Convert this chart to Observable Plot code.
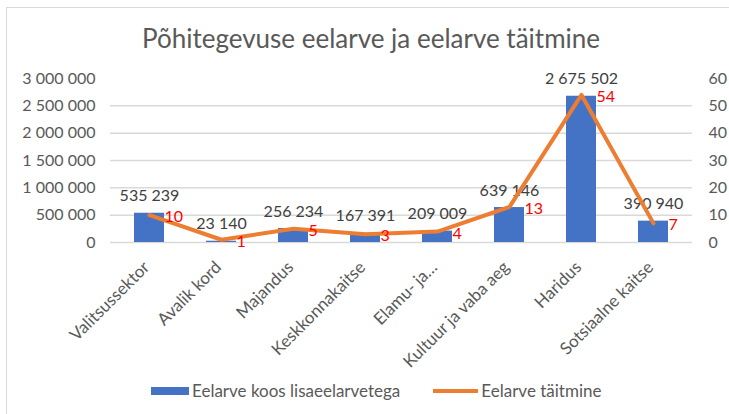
<!DOCTYPE html>
<html>
<head>
<meta charset="utf-8">
<script src="https://cdn.jsdelivr.net/npm/d3@7"></script>
<script src="https://cdn.jsdelivr.net/npm/@observablehq/plot@0.6"></script>
<style>
  html, body { margin: 0; padding: 0; background: #fff; }
  #wrap { position: relative; width: 729px; height: 414px; overflow: hidden; font-family: Lato, "Open Sans", sans-serif; }
  #frame { position: absolute; left: 6px; top: 7px; width: 740px; height: 420px; border: 1px solid #d9d9d9; box-sizing: border-box; }
  #title { position: absolute; left: 0; width: 742px; top: 22px; text-align: center; font-size: 26px; color: #595959; }
  #chart { position: absolute; left: 0; top: 60px; }
  #legend { position: absolute; top: 380px; left: 151px; font-size: 17px; color: #595959; display: flex; align-items: center; }
  .sw { display: inline-block; margin-right: 3px; }
</style>
</head>
<body>
<div id="wrap">
  <div id="frame"></div>
  <div id="title">Põhitegevuse eelarve ja eelarve täitmine</div>
  <div id="chart"></div>
  <div id="legend">
    <span class="sw" style="width:38px;height:8px;background:#4472C4"></span><span>Eelarve koos lisaeelarvetega</span>
    <span class="sw" style="width:45px;height:4px;background:#ED7D31;margin-left:33px"></span><span>Eelarve täitmine</span>
  </div>
</div>
<script>
const categories = ["Valitsussektor", "Avalik kord", "Majandus", "Keskkonnakaitse", "Elamu- ja…", "Kultuur ja vaba aeg", "Haridus", "Sotsiaalne kaitse"];
const budget = [535239, 23140, 256234, 167391, 209009, 639146, 2675502, 390940];
const execution = [10, 1, 5, 3, 4, 13, 54, 7];
const leftTicks = [0, 500000, 1000000, 1500000, 2000000, 2500000, 3000000];
const rightTicks = [0, 10, 20, 30, 40, 50, 60];

const ratio = 3000000 / 60;
const data = categories.map((c, i) => ({ c, b: budget[i], e: execution[i] }));
const fmt = v => d3.format(",")(v).replace(/,/g, " ");
const gray = "#595959";

const chart = Plot.plot({
  width: 729,
  height: 310,
  marginLeft: 110,
  marginRight: 37,
  marginTop: 18,
  marginBottom: 128,
  style: { fontFamily: "Lato, 'Open Sans', sans-serif", fontSize: "16px", color: gray, background: "transparent", overflow: "visible" },
  x: { domain: categories, paddingInner: 0.587, paddingOuter: 0.2935, label: null },
  y: { domain: [0, 3000000], label: null },
  marks: [
    Plot.ruleY(leftTicks.slice(0, -1), { stroke: "#d9d9d9", strokeWidth: 1.5 }),
    Plot.axisY(leftTicks, { anchor: "left", tickSize: 0, tickPadding: 15, tickFormat: fmt, label: null, fill: gray, fontSize: 16 }),
    Plot.axisY(rightTicks.map(v => v * ratio), { anchor: "right", tickSize: 0, tickPadding: 16, tickFormat: d => String(d / ratio), label: null, fill: gray, fontSize: 16 }),
    Plot.axisX({ tickSize: 0, tickPadding: 22, tickRotate: -45, fontSize: 17, fill: gray, label: null, dx: -3 }),
    Plot.barY(data, { x: "c", y: "b", fill: "#4472C4" }),
    Plot.text(data, { x: "c", y: "b", text: d => fmt(d.b), dy: -17, fill: "#404040", fontSize: 16 }),
    Plot.line(data, { x: "c", y: d => d.e * ratio, stroke: "#ED7D31", strokeWidth: 4, strokeLinejoin: "round", strokeLinecap: "round" }),
    Plot.text(data, { x: "c", y: d => d.e * ratio, text: d => String(d.e), dx: 15, dy: 2, textAnchor: "start", fill: "#FF0000", fontSize: 16 })
  ]
});
document.getElementById("chart").appendChild(chart);
</script>
</body>
</html>
